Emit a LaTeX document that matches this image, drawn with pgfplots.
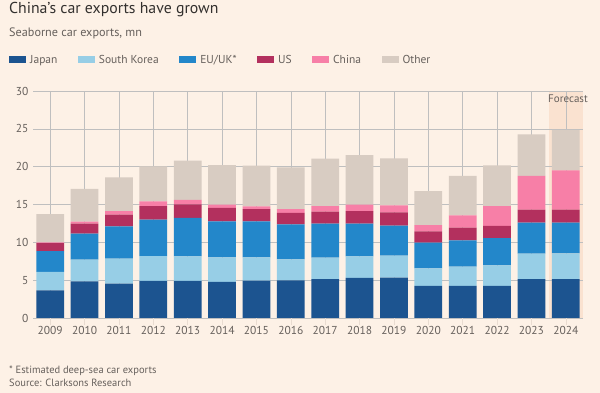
\documentclass[border=0pt]{standalone}
\usepackage{pgfplots}
\usepackage{pgfplotstable}
\pgfplotsset{compat=1.18}
\usepackage{fontspec}
\setmainfont{PT Sans}
\definecolor{bg}{HTML}{FDF1E6}
\definecolor{fc}{HTML}{FAE2D0}
\definecolor{grid}{HTML}{E9DCD1}
\definecolor{txt}{HTML}{66605C}
\definecolor{ttl}{HTML}{33302E}
\definecolor{cjp}{HTML}{1C5490}
\definecolor{csk}{HTML}{97CEE6}
\definecolor{ceu}{HTML}{2387CA}
\definecolor{cus}{HTML}{B3305E}
\definecolor{ccn}{HTML}{F77FA7}
\definecolor{cot}{HTML}{D8CCC2}
\pgfplotstableread{
x jp sk eu us cn ot
0 3.66 2.42 2.77 1.05 0.10 3.74
1 4.85 2.85 3.45 1.32 0.26 4.32
2 4.54 3.30 4.27 1.55 0.48 4.45
3 4.89 3.30 4.81 1.80 0.62 4.62
4 4.89 3.26 5.07 1.80 0.58 5.19
5 4.76 3.26 4.76 1.76 0.44 5.22
6 4.93 3.09 4.76 1.62 0.36 5.37
7 4.98 2.77 4.63 1.50 0.52 5.50
8 5.15 2.82 4.50 1.58 0.75 6.26
9 5.29 2.86 4.32 1.67 0.84 6.56
10 5.33 2.91 3.96 1.76 0.93 6.21
11 4.23 2.33 3.40 1.49 0.84 4.49
12 4.23 2.55 3.48 1.68 1.63 5.20
13 4.23 2.73 3.61 1.59 2.64 5.38
14 5.15 3.35 4.10 1.72 4.45 5.50
15 5.15 3.40 4.05 1.72 5.18 5.35
}\datatable
\begin{document}
\begin{tikzpicture}[x=1pt,y=1pt]
\fill[bg] (0,0) rectangle (600,393);
\fill[fc] (548.6,75) rectangle (583,302);
\node[anchor=base west, inner sep=0pt, text=ttl, font=\fontsize{15.8}{19}\selectfont] at (9,379) {China's car exports have grown};
\node[anchor=base west, inner sep=0pt, text=txt, font=\fontsize{12.2}{14}\selectfont] at (9,356.5) {Seaborne car exports, mn};
\node[anchor=base west, inner sep=0pt, text=txt, font=\fontsize{10.5}{12}\selectfont] at (9,19) {* Estimated deep-sea car exports};
\node[anchor=base west, inner sep=0pt, text=txt, font=\fontsize{10.5}{12}\selectfont] at (9,6) {Source: Clarksons Research};
\begin{axis}[
  at={(33pt,75pt)}, anchor=south west,
  scale only axis, width=550pt, height=227pt,
  clip=false,
  ybar stacked, bar width=0.81,
  xmin=-0.5, xmax=15.5, ymin=0, ymax=30,
  xtick={0,...,15},
  xticklabels={2009,2010,2011,2012,2013,2014,2015,2016,2017,2018,2019,2020,2021,2022,2023,2024},
  ytick={0,5,...,30},
  axis line style={draw=none},
  ymajorgrids, grid style={grid, line width=0.6pt},
  xtick pos=bottom, tick align=outside,
  major tick length=7pt,
  x tick style={grid, line width=0.6pt},
  y tick style={draw=none},
  tick label style={text=txt, font=\fontsize{11.5}{13}\selectfont},
  /pgf/number format/assume math mode=true,
  yticklabel style={xshift=6pt},
  xticklabel style={yshift=2pt},
  legend columns=6,
  legend style={at={(0,1)}, anchor=west, xshift=-24pt, yshift=31pt, draw=none, fill=none,
    font=\fontsize{11.5}{13}\selectfont, text=txt, inner sep=0pt,
    nodes={inner ysep=0pt, inner xsep=0pt},
    /tikz/every odd column/.append style={column sep=4pt},
    /tikz/every even column/.append style={column sep=20.5pt}},
  legend image code/.code={\fill[#1] (0pt,-3.5pt) rectangle (17pt,3.5pt);},
]
\addplot[fill=cjp, draw=none] table[x=x,y=jp]{\datatable};
\addplot[fill=csk, draw=none] table[x=x,y=sk]{\datatable};
\addplot[fill=ceu, draw=none] table[x=x,y=eu]{\datatable};
\addplot[fill=cus, draw=none] table[x=x,y=us]{\datatable};
\addplot[fill=ccn, draw=none] table[x=x,y=cn]{\datatable};
\addplot[fill=cot, draw=none] table[x=x,y=ot]{\datatable};
\legend{Japan,South Korea,EU/UK*,US,China,Other}
\node[anchor=north east, inner sep=0pt, text=txt, font=\fontsize{11}{13}\selectfont] at (rel axis cs:1,1) [xshift=5pt, yshift=-4pt] {Forecast};
\end{axis}
\end{tikzpicture}
\end{document}
